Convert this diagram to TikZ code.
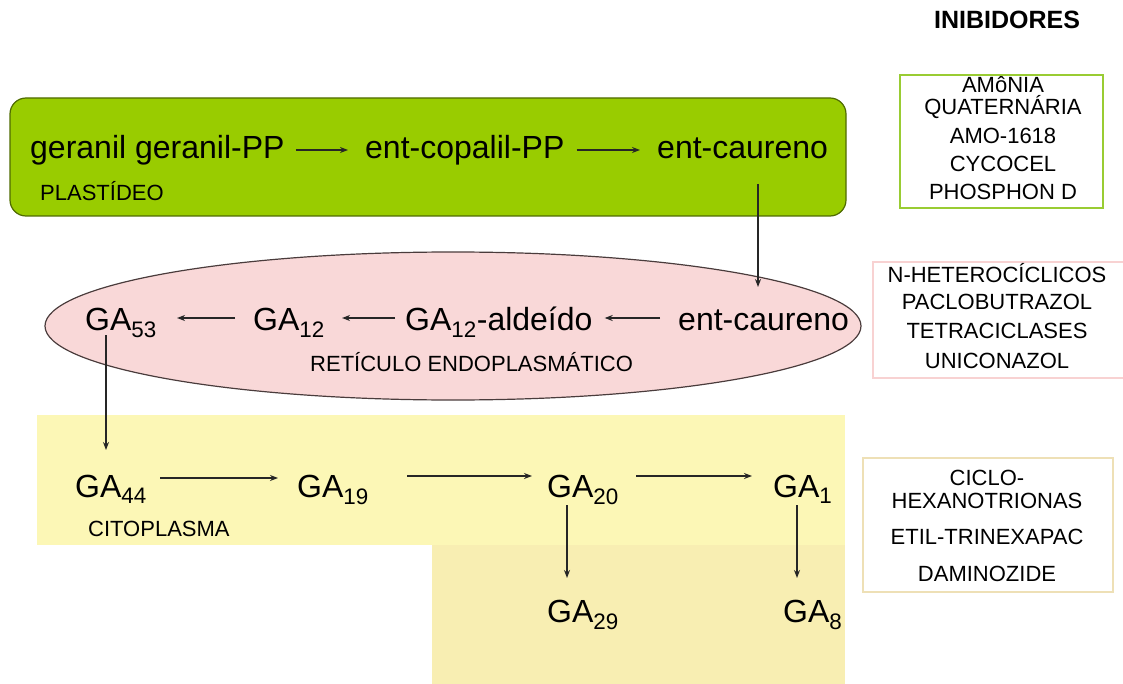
\documentclass[tikz,border=0pt]{standalone}
\usepackage{fontspec}
\setmainfont{Liberation Sans}
\usetikzlibrary{arrows.meta}
\definecolor{plastid}{HTML}{99CC00}
\definecolor{plastidline}{HTML}{4F6B00}
\definecolor{erfill}{HTML}{F9D8D8}
\definecolor{erline}{HTML}{4A3C3C}
\definecolor{cytoA}{HTML}{FCF7B6}
\definecolor{cytoB}{HTML}{F8EEB2}
\definecolor{boxgreen}{HTML}{99CC33}
\definecolor{boxpink}{HTML}{F8D2D2}
\definecolor{boxtan}{HTML}{EEE0B6}
\tikzset{
  big/.style={font=\fontsize{32}{34}\selectfont, inner sep=0pt, anchor=base west},
  small/.style={font=\fontsize{22}{24}\selectfont, inner sep=0pt, anchor=base west},
  inhib/.style={font=\fontsize{22}{24}\selectfont, inner sep=0pt},
  flow/.style={-{Stealth[length=8pt,width=6pt]}, line width=1.3pt, draw=black!85},
}
\begin{document}
\begin{tikzpicture}[x=1pt,y=-1pt]
  \useasboundingbox (0,0) rectangle (1123,684);
  % compartments
  \fill[cytoA] (37,415) rectangle (845,545);
  \fill[cytoB] (432,545) rectangle (845,684);
  \draw[rounded corners=16pt, fill=plastid, draw=plastidline, line width=1.2pt]
    (10,98) rectangle (846,216);
  \draw[fill=erfill, draw=erline, line width=1.2pt] (453,326) ellipse (408 and 74);
  % plastideo
  \draw
    (30,159) node[big] (gg){geranil geranil-PP}
    (365,159) node[big] (cp){ent-copalil-PP}
    (657,159) node[big] (ek1){ent-caureno}
    (40,201) node[small] (plast){PLASTÍDEO};
  % reticulo
  \draw
    (678,330) node[big] (ek2){ent-caureno}
    (405,330) node[big] (ald){GA\textsubscript{12}-aldeído}
    (253,330) node[big] (ga12){GA\textsubscript{12}}
    (85,330) node[big] (ga53){GA\textsubscript{53}}
    (310,371) node[small] (ret){RETÍCULO ENDOPLASMÁTICO};
  % citoplasma
  \draw
    (75,497) node[big] (ga44){GA\textsubscript{44}}
    (297,497) node[big] (ga19){GA\textsubscript{19}}
    (547,497) node[big] (ga20){GA\textsubscript{20}}
    (773,497) node[big] (ga1){GA\textsubscript{1}}
    (547,622) node[big] (ga29){GA\textsubscript{29}}
    (783,622) node[big] (ga8){GA\textsubscript{8}}
    (88,536) node[small] (cito){CITOPLASMA};
  % inibidores
  \node[font=\bfseries\fontsize{25}{27}\selectfont, inner sep=0pt] (inib) at (1007,20) {INIBIDORES};
  \draw[boxgreen, line width=2.5pt] (900,75) rectangle (1103,208);
  \draw[boxpink, line width=2pt] (873,262) rectangle (1126,378);
  \draw[boxtan, line width=2.5pt] (863,458) rectangle (1113,592);
  \draw
    (1003,85) node[inhib] (i1){AMôNIA}
    (1003,107) node[inhib] (i2){QUATERNÁRIA}
    (1003,136) node[inhib] (i3){AMO-1618}
    (1003,164) node[inhib] (i4){CYCOCEL}
    (1003,192) node[inhib] (i5){PHOSPHON D}
    (997,273) node[inhib] (i6){N-HETEROCÍCLICOS}
    (997,302) node[inhib] (i7){PACLOBUTRAZOL}
    (997,331) node[inhib] (i8){TETRACICLASES}
    (997,361) node[inhib] (i9){UNICONAZOL}
    (987,478) node[inhib] (i10){CICLO-}
    (987,501) node[inhib] (i11){HEXANOTRIONAS}
    (987,537) node[inhib] (i12){ETIL-TRINEXAPAC}
    (987,574) node[inhib] (i13){DAMINOZIDE};
  \begin{scope}[flow]
    \draw ([shift={(11,-9)}]gg.base east) -- ([shift={(-17,-9)}]cp.base west);
    \draw ([shift={(12,-9)}]cp.base east) -- ([shift={(-17,-9)}]ek1.base west);
    \draw ([shift={(101,25)}]ek1.base west) -- ([shift={(80,-43)}]ek2.base west);
    \draw ([shift={(-18,-12)}]ek2.base west) -- ([shift={(12,-12)}]ald.base east);
    \draw ([shift={(-10,-12)}]ald.base west) -- ([shift={(17,-12)}]ga12.base east);
    \draw ([shift={(-18,-12)}]ga12.base west) -- ([shift={(20,-12)}]ga53.base east);
    \draw ([shift={(21,5)}]ga53.base west) -- ([shift={(31,-47)}]ga44.base west);
    \draw ([shift={(13,-19)}]ga44.base east) -- ([shift={(-19,-19)}]ga19.base west);
    \draw ([shift={(38,-21)}]ga19.base east) -- ([shift={(-15,-21)}]ga20.base west);
    \draw ([shift={(17,-21)}]ga20.base east) -- ([shift={(-21,-21)}]ga1.base west);
    \draw ([shift={(20,8)}]ga20.base west) -- ([shift={(20,-44)}]ga29.base west);
    \draw ([shift={(24,8)}]ga1.base west) -- ([shift={(14,-44)}]ga8.base west);
  \end{scope}
\end{tikzpicture}
\end{document}
